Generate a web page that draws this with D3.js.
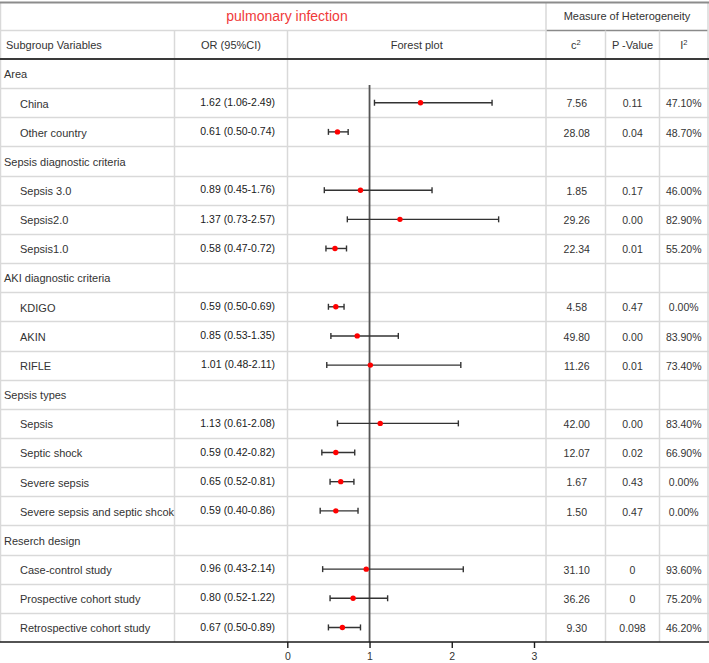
<!DOCTYPE html>
<html>
<head>
<meta charset="utf-8">
<script src="https://cdn.jsdelivr.net/npm/d3@7"></script>
<style>
  html, body { margin: 0; padding: 0; background: #fff; }
  svg { display: block; font-family: "Liberation Sans", Arial, sans-serif; }
</style>
</head>
<body>
<svg id="chart" width="709" height="663"></svg>
<script>
// ---------- data ----------
const rowLabels = [
  "Area", "China", "Other country",
  "Sepsis diagnostic criteria", "Sepsis 3.0", "Sepsis2.0", "Sepsis1.0",
  "AKI diagnostic criteria", "KDIGO", "AKIN", "RIFLE",
  "Sepsis types", "Sepsis", "Septic shock", "Severe sepsis", "Severe sepsis and septic shcok",
  "Reserch design", "Case-control study", "Prospective cohort study", "Retrospective cohort study"
];
const rowIsGroup = [
  true, false, false,
  true, false, false, false,
  true, false, false, false,
  true, false, false, false, false,
  true, false, false, false
];
const orValues = [null, 1.62, 0.61, null, 0.89, 1.37, 0.58, null, 0.59, 0.85, 1.01, null, 1.13, 0.59, 0.65, 0.59, null, 0.96, 0.80, 0.67];
const ciLower  = [null, 1.06, 0.50, null, 0.45, 0.73, 0.47, null, 0.50, 0.53, 0.48, null, 0.61, 0.42, 0.52, 0.40, null, 0.43, 0.52, 0.50];
const ciUpper  = [null, 2.49, 0.74, null, 1.76, 2.57, 0.72, null, 0.69, 1.35, 2.11, null, 2.08, 0.82, 0.81, 0.86, null, 2.14, 1.22, 0.89];
const chiSquare = ["", "7.56", "28.08", "", "1.85", "29.26", "22.34", "", "4.58", "49.80", "11.26", "", "42.00", "12.07", "1.67", "1.50", "", "31.10", "36.26", "9.30"];
const pValues   = ["", "0.11", "0.04", "", "0.17", "0.00", "0.01", "", "0.47", "0.00", "0.01", "", "0.00", "0.02", "0.43", "0.47", "", "0", "0", "0.098"];
const iSquared  = ["", "47.10%", "48.70%", "", "46.00%", "82.90%", "55.20%", "", "0.00%", "83.90%", "73.40%", "", "83.40%", "66.90%", "0.00%", "0.00%", "", "93.60%", "75.20%", "46.20%"];
const axisTicks = [0, 1, 2, 3];
const titleText = "pulmonary infection";
const referenceValue = 1;

// ---------- layout ----------
const svg = d3.select("#chart");
const W = 709;
const colX = [0.5, 174.5, 287.5, 546, 605.5, 659.5, 708];
const titleTop = 2, titleBottom = 30.5, headerBottom = 59, tableBottom = 642;
const gridColor = "#d9d9d9";
const textColor = "#333";

const idx = d3.range(rowLabels.length);
const y = d3.scaleBand().domain(idx).range([headerBottom, tableBottom]).padding(0);
const x = d3.scaleLinear().domain([0, 3]).range([287.3, 534]);

// horizontal row grid lines
svg.append("g").selectAll("line").data(idx.slice(1)).join("line")
  .attr("x1", 0).attr("x2", W)
  .attr("y1", d => Math.round(y(d)) + 0.5).attr("y2", d => Math.round(y(d)) + 0.5)
  .attr("stroke", gridColor).attr("stroke-width", 1.5);

// line under title row (left light, right darker)
svg.append("line").attr("x1", 0).attr("x2", colX[3]).attr("y1", titleBottom).attr("y2", titleBottom)
  .attr("stroke", gridColor).attr("stroke-width", 1.5);
svg.append("line").attr("x1", colX[3]).attr("x2", colX[6]).attr("y1", titleBottom).attr("y2", titleBottom)
  .attr("stroke", "#8a8a8a").attr("stroke-width", 1.5);

// vertical grid lines
const vlines = [
  {x: colX[0], y1: titleTop, y2: tableBottom},
  {x: colX[1], y1: titleBottom, y2: tableBottom},
  {x: colX[2], y1: titleBottom, y2: tableBottom},
  {x: colX[3], y1: titleTop, y2: tableBottom},
  {x: colX[4], y1: titleBottom, y2: tableBottom},
  {x: colX[5], y1: titleBottom, y2: tableBottom},
  {x: colX[6], y1: titleTop, y2: tableBottom}
];
svg.append("g").selectAll("line").data(vlines).join("line")
  .attr("x1", d => d.x).attr("x2", d => d.x).attr("y1", d => d.y1).attr("y2", d => d.y2)
  .attr("stroke", gridColor).attr("stroke-width", 1.5);

// top border, header bottom
svg.append("line").attr("x1", 0).attr("x2", W).attr("y1", titleTop + 0.5).attr("y2", titleTop + 0.5)
  .attr("stroke", "#8c8c8c").attr("stroke-width", 2);
svg.append("line").attr("x1", 0).attr("x2", W).attr("y1", headerBottom).attr("y2", headerBottom)
  .attr("stroke", "#3a3a3a").attr("stroke-width", 2);

// title
svg.append("text").attr("x", 287).attr("y", 16).attr("dy", "0.35em")
  .attr("text-anchor", "middle").attr("fill", "#f03a3a").attr("font-size", 14)
  .text(titleText);
svg.append("text").attr("x", (colX[3] + colX[6]) / 2).attr("y", 16.5).attr("dy", "0.35em")
  .attr("text-anchor", "middle").attr("fill", textColor).attr("font-size", 11)
  .text("Measure of Heterogeneity");

// header row
const hy = 45;
const header = svg.append("g").attr("fill", textColor).attr("font-size", 11);
header.append("text").attr("x", 6).attr("y", hy).attr("dy", "0.35em").text("Subgroup Variables");
header.append("text").attr("x", (colX[1] + colX[2]) / 2).attr("y", hy).attr("dy", "0.35em")
  .attr("text-anchor", "middle").text("OR (95%CI)");
header.append("text").attr("x", (colX[2] + colX[3]) / 2).attr("y", hy).attr("dy", "0.35em")
  .attr("text-anchor", "middle").text("Forest plot");
const c2 = header.append("text").attr("x", (colX[3] + colX[4]) / 2).attr("y", hy).attr("dy", "0.35em")
  .attr("text-anchor", "middle");
c2.append("tspan").text("c");
c2.append("tspan").attr("dy", "-0.45em").attr("font-size", 7.5).text("2");
header.append("text").attr("x", (colX[4] + colX[5]) / 2).attr("y", hy).attr("dy", "0.35em")
  .attr("text-anchor", "middle").text("P -Value");
const i2 = header.append("text").attr("x", (colX[5] + colX[6]) / 2).attr("y", hy).attr("dy", "0.35em")
  .attr("text-anchor", "middle");
i2.append("tspan").text("I");
i2.append("tspan").attr("dy", "-0.45em").attr("font-size", 7.5).text("2");

// row labels
const cy = i => y(i) + y.bandwidth() / 2;
svg.append("g").selectAll("text").data(idx).join("text")
  .attr("x", i => rowIsGroup[i] ? 4 : 20)
  .attr("y", i => cy(i) + 1).attr("dy", "0.35em")
  .attr("fill", textColor).attr("font-size", 11)
  .text(i => rowLabels[i]);

// OR text
const orIdx = idx.filter(i => orValues[i] != null);
svg.append("g").selectAll("text").data(orIdx).join("text")
  .attr("x", 275).attr("y", i => cy(i) - 0.5).attr("dy", "0.35em")
  .attr("text-anchor", "end").attr("fill", "#1a1a1a").attr("font-size", 10.5)
  .attr("font-weight", 500)
  .text(i => `${orValues[i].toFixed(2)} (${ciLower[i].toFixed(2)}-${ciUpper[i].toFixed(2)})`);

// heterogeneity columns
const hetCols = [
  {vals: chiSquare, cx: (colX[3] + colX[4]) / 2 + 1},
  {vals: pValues, cx: (colX[4] + colX[5]) / 2},
  {vals: iSquared, cx: (colX[5] + colX[6]) / 2}
];
hetCols.forEach(col => {
  svg.append("g").selectAll("text").data(idx.filter(i => col.vals[i] !== "")).join("text")
    .attr("x", col.cx).attr("y", i => cy(i) + 1).attr("dy", "0.35em")
    .attr("text-anchor", "middle").attr("fill", textColor).attr("font-size", 10.5)
    .text(i => col.vals[i]);
});

// reference line
svg.append("line")
  .attr("x1", x(referenceValue)).attr("x2", x(referenceValue))
  .attr("y1", 85).attr("y2", tableBottom)
  .attr("stroke", "#555").attr("stroke-width", 1.8);

// CI lines, caps, points
const forest = svg.append("g");
forest.selectAll("line.ci").data(orIdx).join("line").attr("class", "ci")
  .attr("x1", i => x(ciLower[i])).attr("x2", i => x(ciUpper[i]))
  .attr("y1", i => cy(i)).attr("y2", i => cy(i))
  .attr("stroke", "#333").attr("stroke-width", 1.4);
forest.selectAll("line.capL").data(orIdx).join("line").attr("class", "capL")
  .attr("x1", i => x(ciLower[i])).attr("x2", i => x(ciLower[i]))
  .attr("y1", i => cy(i) - 3).attr("y2", i => cy(i) + 3)
  .attr("stroke", "#333").attr("stroke-width", 1.4);
forest.selectAll("line.capR").data(orIdx).join("line").attr("class", "capR")
  .attr("x1", i => x(ciUpper[i])).attr("x2", i => x(ciUpper[i]))
  .attr("y1", i => cy(i) - 3).attr("y2", i => cy(i) + 3)
  .attr("stroke", "#333").attr("stroke-width", 1.4);
forest.selectAll("circle").data(orIdx).join("circle")
  .attr("cx", i => x(orValues[i])).attr("cy", i => cy(i)).attr("r", 2.7)
  .attr("fill", "#ff0000");

// bottom axis
svg.append("line").attr("x1", 0).attr("x2", W).attr("y1", tableBottom).attr("y2", tableBottom)
  .attr("stroke", "#1a1a1a").attr("stroke-width", 1.6);
const axis = d3.axisBottom(x).tickValues(axisTicks).tickFormat(d3.format("d")).tickSize(6).tickPadding(5);
const ag = svg.append("g").attr("transform", `translate(0,${tableBottom})`).call(axis);
ag.select(".domain").remove();
ag.selectAll(".tick line").attr("stroke", "#1a1a1a").attr("stroke-width", 1.4);
ag.selectAll(".tick text").attr("fill", textColor).attr("font-size", 10.5)
  .attr("font-family", "Liberation Sans, Arial, sans-serif");
</script>
</body>
</html>
